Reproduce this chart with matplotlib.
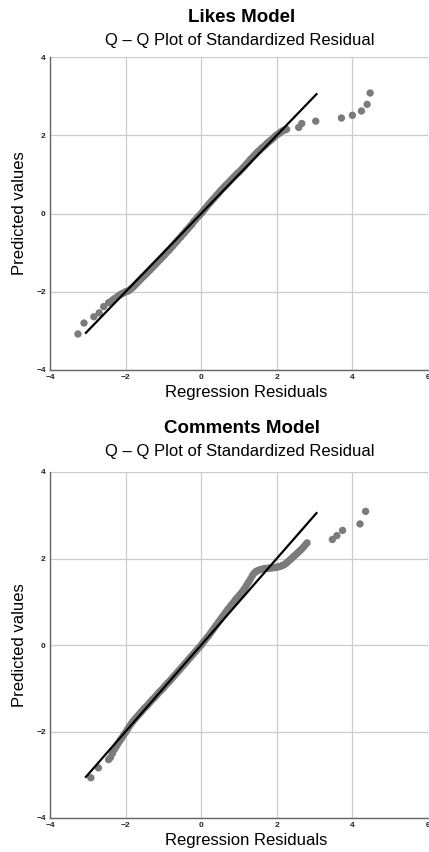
import matplotlib.pyplot as plt

plt.rcParams['font.family'] = ['Liberation Sans', 'DejaVu Sans']

# Likes model: sorted residuals (x) vs theoretical quantiles (y)
likes_x = [-3.26, -3.10, -2.84, -2.70, -2.58, -2.45,
           -2.40, -2.35, -2.30, -2.25, -2.20, -2.15, -2.10, -2.05, -2.00, -1.95,
           -1.90, -1.85, -1.80, -1.75, -1.70, -1.65, -1.60, -1.55, -1.50, -1.45,
           -1.40, -1.35, -1.30, -1.25, -1.20, -1.15, -1.10, -1.05, -1.00, -0.95,
           -0.90, -0.85, -0.80, -0.75, -0.70, -0.65, -0.60, -0.55, -0.50, -0.45,
           -0.40, -0.35, -0.30, -0.25, -0.20, -0.15, -0.10, -0.05, 0.00, 0.05,
           0.10, 0.15, 0.20, 0.25, 0.30, 0.35, 0.40, 0.45, 0.50, 0.55,
           0.60, 0.65, 0.70, 0.75, 0.80, 0.85, 0.90, 0.95, 1.00, 1.05,
           1.10, 1.15, 1.20, 1.25, 1.30, 1.35, 1.40, 1.45, 1.50, 1.55,
           1.60, 1.65, 1.70, 1.75, 1.80, 1.85, 1.90, 1.95, 2.00, 2.05,
           2.10, 2.15, 2.20, 2.26,
           2.58, 2.66, 3.03, 3.71, 4.00, 4.24, 4.39, 4.47]
likes_y = [-3.08, -2.80, -2.64, -2.54, -2.38, -2.28,
           -2.26, -2.22, -2.18, -2.15, -2.11, -2.08, -2.05, -2.03, -2.00, -1.99,
           -1.96, -1.92, -1.88, -1.83, -1.78, -1.73, -1.68, -1.63, -1.59, -1.54,
           -1.49, -1.44, -1.39, -1.34, -1.29, -1.24, -1.19, -1.14, -1.09, -1.04,
           -0.98, -0.94, -0.88, -0.83, -0.77, -0.72, -0.66, -0.61, -0.55, -0.50,
           -0.44, -0.39, -0.33, -0.28, -0.21, -0.16, -0.10, -0.05, 0.00, 0.06,
           0.12, 0.18, 0.24, 0.29, 0.35, 0.40, 0.46, 0.51, 0.57, 0.62,
           0.67, 0.72, 0.77, 0.82, 0.87, 0.92, 0.97, 1.02, 1.06, 1.11,
           1.16, 1.21, 1.27, 1.32, 1.38, 1.43, 1.48, 1.53, 1.58, 1.62,
           1.67, 1.71, 1.75, 1.80, 1.84, 1.88, 1.92, 1.97, 2.01, 2.04,
           2.08, 2.11, 2.13, 2.15,
           2.20, 2.30, 2.36, 2.44, 2.51, 2.62, 2.79, 3.08]

# Comments model
comments_x = [-2.92, -2.72,
              -2.45, -2.40, -2.35, -2.30, -2.25, -2.20, -2.15, -2.10, -2.05, -2.00,
              -1.95, -1.90, -1.85, -1.80, -1.75, -1.70, -1.65, -1.60, -1.55, -1.50,
              -1.45, -1.40, -1.35, -1.30, -1.25, -1.20, -1.15, -1.10, -1.05, -1.00,
              -0.95, -0.90, -0.85, -0.80, -0.75, -0.70, -0.65, -0.60, -0.55, -0.50,
              -0.45, -0.40, -0.35, -0.30, -0.25, -0.20, -0.15, -0.10, -0.05, 0.00,
              0.05, 0.10, 0.15, 0.20, 0.25, 0.30, 0.35, 0.40, 0.45, 0.50,
              0.55, 0.60, 0.65, 0.70, 0.75, 0.80, 0.85, 0.90, 0.95, 1.00,
              1.05, 1.10, 1.15, 1.20, 1.25, 1.30, 1.35, 1.40, 1.45, 1.50,
              1.55, 1.60, 1.65, 1.70, 1.75, 1.80, 1.85, 1.90, 1.95, 2.00,
              2.05, 2.10, 2.15, 2.20, 2.25, 2.30, 2.35, 2.40, 2.45, 2.50,
              2.55, 2.60, 2.65, 2.70, 2.75, 2.80,
              3.47, 3.59, 3.74, 4.20, 4.35]
comments_y = [-3.07, -2.84,
              -2.65, -2.60, -2.51, -2.42, -2.35, -2.28, -2.21, -2.15, -2.08, -2.02,
              -1.95, -1.88, -1.82, -1.76, -1.71, -1.66, -1.61, -1.56, -1.51, -1.46,
              -1.42, -1.37, -1.32, -1.27, -1.23, -1.18, -1.13, -1.08, -1.04, -0.99,
              -0.94, -0.89, -0.85, -0.80, -0.75, -0.70, -0.65, -0.60, -0.55, -0.50,
              -0.45, -0.40, -0.35, -0.30, -0.25, -0.20, -0.15, -0.10, -0.05, 0.00,
              0.06, 0.11, 0.17, 0.22, 0.28, 0.34, 0.40, 0.46, 0.52, 0.58,
              0.64, 0.70, 0.76, 0.82, 0.87, 0.93, 0.98, 1.04, 1.09, 1.14,
              1.19, 1.25, 1.31, 1.38, 1.45, 1.52, 1.60, 1.66, 1.70, 1.72,
              1.74, 1.75, 1.76, 1.77, 1.77, 1.78, 1.78, 1.79, 1.79, 1.80,
              1.81, 1.82, 1.84, 1.86, 1.89, 1.93, 1.97, 2.01, 2.05, 2.09,
              2.13, 2.17, 2.21, 2.26, 2.31, 2.36,
              2.44, 2.53, 2.65, 2.80, 3.09]

ref_line = [-3.05, 3.05]
ticks = [-4, -2, 0, 2, 4, 6]
yticks = [-4, -2, 0, 2, 4]

W, H = 429, 852
fig = plt.figure(figsize=(W / 100, H / 100), dpi=100)

def px(x, y):
    return x / W, 1 - y / H

panels = [
    ('Likes Model', likes_x, likes_y, (50, 57, 428, 370), 17, 41, 393),
    ('Comments Model', comments_x, comments_y, (50, 472, 428, 818), 428, 451, 840),
]

for title, xs, ys, (l, t, r, b), ty1, ty2, ly in panels:
    ax = fig.add_axes([l / W, 1 - b / H, (r - l) / W, (b - t) / H])
    ax.scatter(xs, ys, s=28, color='#7b7b7b', edgecolors='none', zorder=2)
    ax.plot(ref_line, ref_line, color='black', lw=1.6, zorder=3)
    ax.set_xlim(-4, 6)
    ax.set_ylim(-4, 4)
    ax.set_xticks(ticks)
    ax.set_yticks(yticks)
    ax.grid(True, color='#cccccc', lw=0.9, zorder=0)
    ax.tick_params(length=0, labelsize=6, pad=3, colors='#222222')
    for lab in ax.get_xticklabels() + ax.get_yticklabels():
        lab.set_fontweight('bold')
    for side in ['top', 'right']:
        ax.spines[side].set_visible(False)
    for side in ['left', 'bottom']:
        ax.spines[side].set_color('#666666')
        ax.spines[side].set_linewidth(1.0)
    fig.text(*px(242, ty1), title, ha='center', va='center', fontsize=13.5, fontweight='bold')
    fig.text(*px(240, ty2), 'Q \u2013 Q Plot of Standardized Residual', ha='center', va='center', fontsize=12)
    fig.text(*px(246, ly), 'Regression Residuals', ha='center', va='center', fontsize=12)
    fig.text(*px(20, (t + b) / 2), 'Predicted values', ha='center', va='center', fontsize=12, rotation=90)

fig.savefig('out.png', dpi=100)
